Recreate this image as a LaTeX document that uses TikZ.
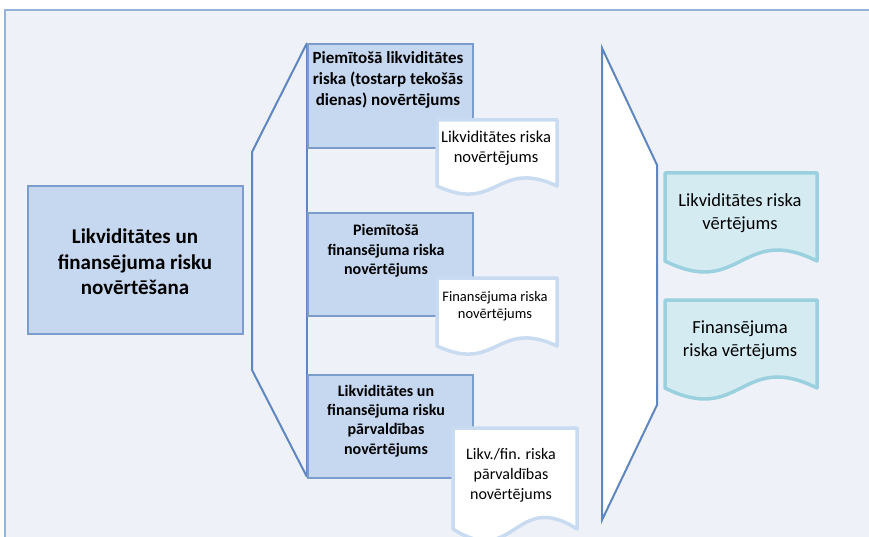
\documentclass[tikz,border=0pt]{standalone}
\usepackage{fontspec}
\setmainfont{Carlito}
\definecolor{bgc}{HTML}{EEF1F7}
\definecolor{framec}{HTML}{95B3D7}
\definecolor{boxfill}{HTML}{C6D8F0}
\definecolor{boxline}{HTML}{7C9DCB}
\definecolor{brline}{HTML}{5F86BE}
\definecolor{ldocline}{HTML}{C9DBF1}
\definecolor{rdocfill}{HTML}{D4EBF1}
\definecolor{rdocline}{HTML}{9BD1DF}
\tikzset{
  procbox/.style={draw=boxline, fill=boxfill, line width=2pt},
  bracket/.style={draw=brline, line width=2pt, line join=miter},
  ldoc/.style={draw=ldocline, fill=white, line width=3.5pt, line join=round},
  rdoc/.style={draw=rdocline, fill=rdocfill, line width=3.5pt, line join=round},
  lbl/.style={align=center, inner sep=0pt, text=black},
}
% document shape: x1 y1 (top left), x2 (right), yb (bottom ends), a (wave)
\newcommand\docshape[6]{%
  \path[#1] (#2,#3) -- (#4,#3) -- (#4,#5)
    .. controls ({(#2+#4)/2},{#5-#6}) and ({(#2+#4)/2},{#5+#6}) .. (#2,#5) -- cycle;}
\begin{document}
\begin{tikzpicture}[x=1pt,y=-1pt]
\useasboundingbox (0,0) rectangle (869,537);
\clip (0,0) rectangle (869,537);
\fill[white] (0,0) rectangle (869,537);
\draw[fill=bgc, draw=framec, line width=1.5pt] (5,10) rectangle (890,560);

% left bracket and spine
\draw[bracket] (307,43) -- (252,152) -- (252,370) -- (307,477);
\draw[bracket] (307,43) -- (307,477);

% main box
\node[procbox, minimum width=215pt, minimum height=148pt, anchor=north west, inner sep=0pt] (main) at (27,185) {};
\node[lbl, font=\fontsize{21}{25.5}\selectfont\bfseries] (maint) at (135,262) {Likviditātes un\\finansējuma risku\\novērtēšana};

% three process boxes
\node[procbox, minimum width=165pt, minimum height=104pt, anchor=north west, inner sep=0pt] (b1) at (307,43) {};
\node[procbox, minimum width=165pt, minimum height=103pt, anchor=north west, inner sep=0pt] (b2) at (307,212) {};
\node[procbox, minimum width=165pt, minimum height=103pt, anchor=north west, inner sep=0pt] (b3) at (307,374) {};
\node[lbl, font=\fontsize{17}{21}\selectfont\bfseries] (b1t) at (388,80) {Piemītošā likviditātes\\riska (tostarp tekošās\\dienas) novērtējums};
\node[lbl, font=\fontsize{16}{19.5}\selectfont\bfseries] (b2t) at (386,251) {Piemītošā\\finansējuma riska\\novērtējums};
\node[lbl, font=\fontsize{16}{19.3}\selectfont\bfseries] (b3t) at (386,421) {Likviditātes un\\finansējuma risku\\pārvaldības\\novērtējums};

% left documents
\docshape{ldoc}{437}{120}{557}{186}{28}
\node[lbl, font=\fontsize{16.5}{19.5}\selectfont] (d1) at (496,148) {Likviditātes riska\\novērtējums};
\docshape{ldoc}{437}{278}{557}{346}{28}
\node[lbl, font=\fontsize{14.5}{17.5}\selectfont] (d2) at (495,306) {Finansējuma riska\\novērtējums};
\docshape{ldoc}{453}{428}{577}{529}{40}
\node[lbl, font=\fontsize{16}{20}\selectfont] (d3) at (511,475) {Likv./fin. riska\\pārvaldības\\novērtējums};

% right funnel
\draw[bracket, fill=white] (602,48) -- (657,165) -- (657,405) -- (602,520) -- cycle;

% right documents
\docshape{rdoc}{665}{173}{817}{261}{38}
\node[lbl, font=\fontsize{18.5}{23}\selectfont] (r1) at (740,213) {Likviditātes riska\\vērtējums};
\docshape{rdoc}{665}{300}{817}{388}{38}
\node[lbl, font=\fontsize{18.5}{23}\selectfont] (r2) at (740,340) {Finansējuma\\riska vērtējums};
\end{tikzpicture}
\end{document}
